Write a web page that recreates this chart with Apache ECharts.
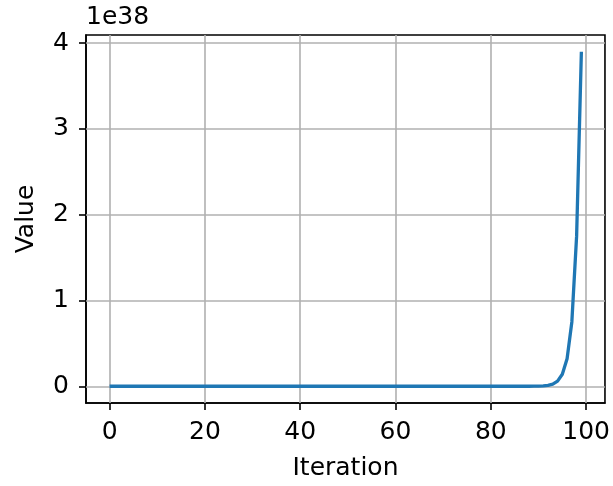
<!DOCTYPE html>
<html>
<head>
<meta charset="utf-8">
<script src="https://cdn.jsdelivr.net/npm/echarts@6/dist/echarts.min.js"></script>
<style>
  html, body { margin: 0; padding: 0; background: #fff; }
  #chart { width: 613px; height: 486px; }
</style>
</head>
<body>
<div id="chart"></div>
<script>
// values in units of 1e38, iteration 0..99
const iterations = [];
for (let i = 0; i < 100; i++) iterations.push(i);
const values = [
  0, 0, 0, 0, 0, 0, 0, 0, 0, 0,
  0, 0, 0, 0, 0, 0, 0, 0, 0, 0,
  0, 0, 0, 0, 0, 0, 0, 0, 0, 0,
  0, 0, 0, 0, 0, 0, 0, 0, 0, 0,
  0, 0, 0, 0, 0, 0, 0, 0, 0, 0,
  0, 0, 0, 0, 0, 0, 0, 0, 0, 0,
  0, 0, 0, 0, 0, 0, 0, 0, 0, 0,
  0, 0, 0, 0, 0, 0, 0, 0, 0, 0,
  0, 0, 0, 0, 0, 0, 0, 0, 0, 0.001,
  0.002, 0.005, 0.011, 0.025, 0.06, 0.14, 0.32, 0.75, 1.75, 3.9
];
const xTicks = [0, 20, 40, 60, 80, 100];
const yTicks = [0, 1, 2, 3, 4];

const font = 'DejaVu Sans';
const fs = 25;
const chart = echarts.init(document.getElementById('chart'));

chart.setOption({
  animation: false,
  grid: {
    left: 86, right: 6, top: 35, bottom: 81,
    show: true, borderColor: '#000', borderWidth: 1.6, backgroundColor: 'transparent'
  },
  graphic: [{
    type: 'text', left: 86, top: 5,
    style: { text: '1e38', font: fs + 'px "DejaVu Sans"', fill: '#000' }
  }],
  xAxis: {
    type: 'value', min: -4.95, max: 103.95,
    name: 'Iteration', nameLocation: 'middle', nameGap: 53,
    nameTextStyle: { fontFamily: font, fontSize: fs, color: '#000' },
    axisLine: { onZero: false, lineStyle: { color: '#000', width: 1.6 } },
    axisTick: { show: true, inside: false, length: 7, customValues: xTicks, lineStyle: { color: '#000', width: 1.6 } },
    axisLabel: { customValues: xTicks, margin: 17, fontFamily: font, fontSize: fs, color: '#000' },
    splitLine: { show: false }
  },
  yAxis: {
    type: 'value', min: -0.195, max: 4.095,
    name: 'Value', nameLocation: 'middle', nameGap: 47, nameRotate: 90,
    nameTextStyle: { fontFamily: font, fontSize: fs, color: '#000' },
    axisLine: { onZero: false, lineStyle: { color: '#000', width: 1.6 } },
    axisTick: { show: true, inside: false, length: 7, customValues: yTicks, lineStyle: { color: '#000', width: 1.6 } },
    axisLabel: { customValues: yTicks, margin: 17, fontFamily: font, fontSize: fs, color: '#000' },
    splitLine: { show: false }
  },
  series: [
    {
      type: 'line', data: [], silent: true, z: 1,
      markLine: {
        z: 1, silent: true, symbol: 'none', label: { show: false },
        lineStyle: { color: '#b0b0b0', width: 1.6, type: 'solid' },
        data: xTicks.map(v => ({ xAxis: v })).concat(yTicks.map(v => ({ yAxis: v })))
      }
    },
    {
      type: 'line', z: 6,
      data: iterations.map((x, i) => [x, values[i]]),
      showSymbol: false,
      lineStyle: { color: '#1f77b4', width: 3.3, cap: 'butt', join: 'round' },
      itemStyle: { color: '#1f77b4' }
    }
  ]
});
</script>
</body>
</html>
